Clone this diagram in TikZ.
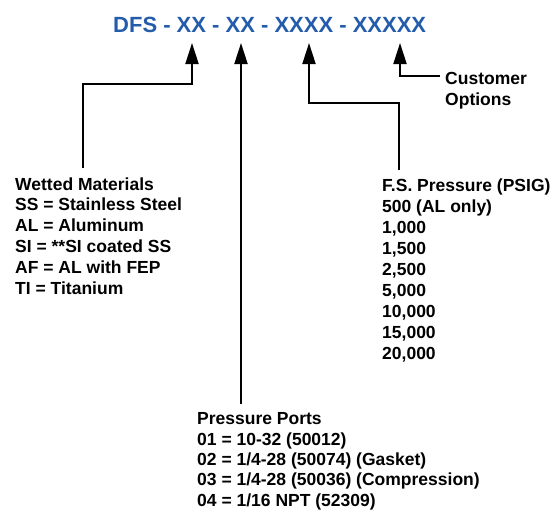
\documentclass[tikz,border=0pt]{standalone}
\usepackage{fontspec}
\setmainfont{Liberation Sans}
\usetikzlibrary{arrows.meta}
\definecolor{titleblue}{RGB}{36,92,172}
\begin{document}
\begin{tikzpicture}[x=1pt,y=-1pt,
  >={Triangle[length=21pt,width=13pt]},
  conn/.style={line width=2pt,->},
  titletext/.style={font=\fontsize{22}{26}\selectfont\bfseries, text=titleblue, inner sep=0pt},
  block/.style={font=\fontsize{17.5}{20.8}\selectfont\bfseries, align=left, inner sep=0pt, anchor=base west}]
\useasboundingbox (0,0) rectangle (553,512);
\node[titletext, anchor=base west] (title) at (113,32) {DFS - XX - XX - XXXX - XXXXX};
% anchor base = baseline of the last line
\node[block] (wet) at (15,294) {Wetted Materials\\SS = Stainless Steel\\AL = Aluminum\\SI = **SI coated SS\\AF = AL with FEP\\TI = Titanium};
\node[block, font=\fontsize{17.5}{21}\selectfont\bfseries] (fs) at (382,359) {F.S. Pressure (PSIG)\\500 (AL only)\\1,000\\1,500\\2,500\\5,000\\10,000\\15,000\\20,000};
\node[block, font=\fontsize{17.5}{20.3}\selectfont\bfseries] (pp) at (197,506) {Pressure Ports\\01 = 10-32 (50012)\\02 = 1/4-28 (50074) (Gasket)\\03 = 1/4-28 (50036) (Compression)\\04 = 1/16 NPT (52309)};
\node[block] (co) at (445,105) {Customer\\Options};
\coordinate (t1) at (192,43);
\coordinate (t2) at (241,43);
\coordinate (t3) at (309,43);
\coordinate (t4) at (400,43);
\coordinate (s1) at (83,168);
\coordinate (s2) at (241,404);
\coordinate (s3) at (399,170);
\coordinate (s4) at (440,76);
\draw[conn] (s1) |- (192,84) -- (t1);
\draw[conn] (s2) -- (t2);
\draw[conn] (s3) |- (309,103) -- (t3);
\draw[conn] (s4) -| (t4);
\end{tikzpicture}
\end{document}
